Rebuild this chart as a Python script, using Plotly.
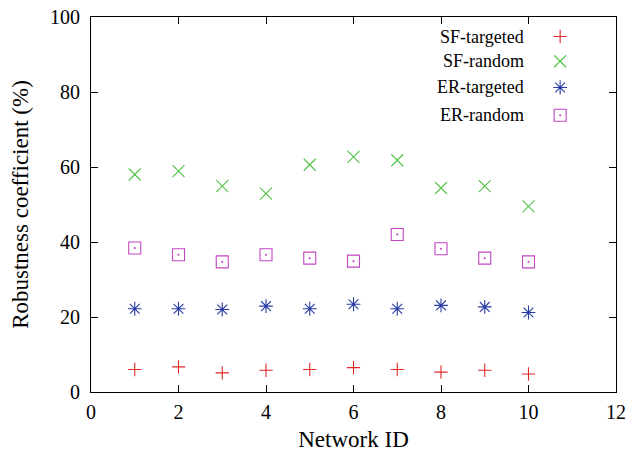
import plotly.graph_objects as go

network_id = [1, 2, 3, 4, 5, 6, 7, 8, 9, 10]
sf_targeted = [6.0, 6.7, 5.1, 5.8, 6.0, 6.5, 6.0, 5.3, 5.8, 4.8]
sf_random = [58.0, 58.9, 54.9, 52.9, 60.6, 62.7, 61.8, 54.4, 54.9, 49.5]
er_targeted = [22.2, 22.2, 22.0, 22.9, 22.2, 23.4, 22.2, 23.1, 22.7, 21.2]
er_random = [38.4, 36.6, 34.7, 36.6, 35.7, 34.9, 42.0, 38.2, 35.7, 34.7]

series_names = ["SF-targeted", "SF-random", "ER-targeted", "ER-random"]
series_values = [sf_targeted, sf_random, er_targeted, er_random]
colors = ["rgb(225,40,40)", "rgb(80,195,70)", "rgb(40,60,165)", "rgb(195,70,195)"]
symbols = ["cross-thin-open", "x-thin-open", "asterisk-open", "square-open-dot"]
sizes = [9.5, 12, 11.5, 12]

x_ticks = [0, 2, 4, 6, 8, 10, 12]
y_ticks = [0, 20, 40, 60, 80, 100]

FONT = "Liberation Serif"

fig = go.Figure()
for name, vals, c, s, sz in zip(series_names, series_values, colors, symbols, sizes):
    fig.add_trace(go.Scatter(
        x=network_id, y=vals, mode="markers", name=name, showlegend=False,
        marker=dict(symbol=s, size=sz, color=c, line=dict(color=c, width=1.1)),
    ))

# manual legend (text left of marker, gnuplot style) on an overlay axis
leg_y = [0.948, 0.882, 0.812, 0.738]
for name, c, s, sz, ly in zip(series_names, colors, symbols, sizes, leg_y):
    fig.add_trace(go.Scatter(
        x=[0.8936], y=[ly], xaxis="x2", yaxis="y2", mode="markers", showlegend=False,
        marker=dict(symbol=s, size=sz, color=c, line=dict(color=c, width=1.1)),
        hoverinfo="skip",
    ))
    fig.add_annotation(
        x=0.829, y=ly, xref="paper", yref="paper", text=name, showarrow=False,
        xanchor="right", yanchor="middle", font=dict(family=FONT, size=18, color="black"),
    )

axis_common = dict(
    showgrid=False, zeroline=False, showline=True, linecolor="black", linewidth=1,
    mirror="allticks", ticks="inside", ticklen=7, tickcolor="black", tickwidth=1,
    tickfont=dict(family=FONT, size=20, color="black"), automargin=False,
)

fig.update_layout(
    width=626, height=452,
    margin=dict(l=91, r=10, t=17, b=60),
    paper_bgcolor="white", plot_bgcolor="white",
    showlegend=False,
    font=dict(family=FONT),
    xaxis=dict(range=[0, 12], tickvals=x_ticks, ticklabelstandoff=2,
               title=dict(text="Network ID", font=dict(family=FONT, size=23, color="black"), standoff=12),
               **axis_common),
    yaxis=dict(range=[0, 100], tickvals=y_ticks, ticklabelstandoff=6,
               title=dict(text="Robustness coefficient (%)", font=dict(family=FONT, size=23, color="black"), standoff=14),
               **axis_common),
    xaxis2=dict(range=[0, 1], overlaying="x", visible=False, fixedrange=True),
    yaxis2=dict(range=[0, 1], overlaying="y", visible=False, fixedrange=True),
)

fig.write_html("out.html")
